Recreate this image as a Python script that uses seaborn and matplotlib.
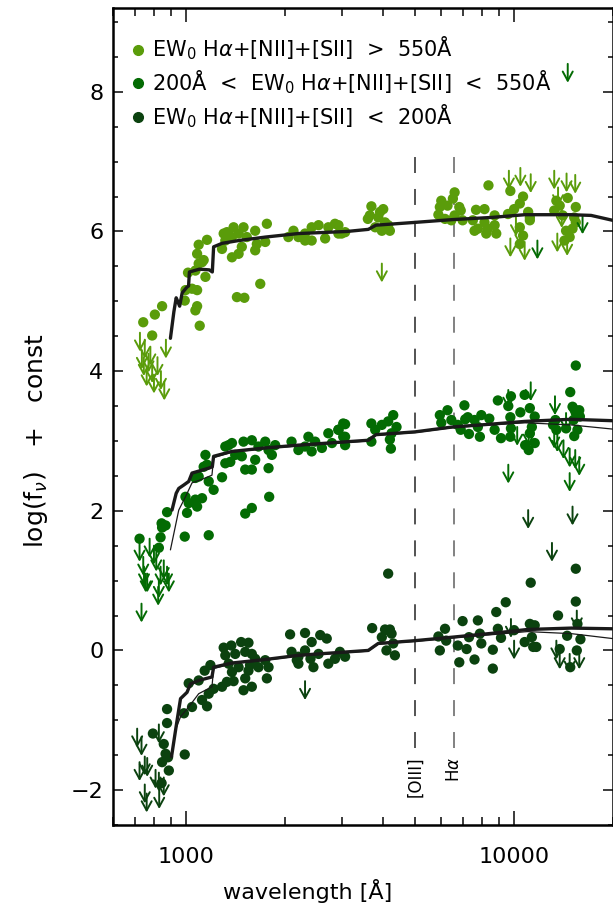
import numpy as np
import pandas as pd
import seaborn as sns
import matplotlib.pyplot as plt
from matplotlib.lines import Line2D
from matplotlib.ticker import FixedLocator, LogLocator, MultipleLocator, NullFormatter, FuncFormatter

# ---- colours of the three EW bins
c_high = '#5a9c0a'
c_mid = '#036b03'
c_low = '#0b420f'

legend_labels = [r'EW$_0$ H$\alpha$+[NII]+[SII]  >  550Å',
                 r'200Å  <  EW$_0$ H$\alpha$+[NII]+[SII]  <  550Å',
                 r'EW$_0$ H$\alpha$+[NII]+[SII]  <  200Å']

# ---- detections (wavelength [A], log f_nu + const)
high_pts = [(742, 4.70), (805, 4.81), (847, 4.93), (790, 4.51), (1095, 5.81), (1161, 5.88), (1083, 5.68),
            (1121, 5.56), (1095, 5.54), (1134, 5.59), (1016, 5.41), (1070, 5.44), (1148, 5.35), (1045, 5.18),
            (1083, 5.16), (998, 5.16), (993, 5.01), (1083, 4.93), (1070, 4.87), (1103, 4.65), (1687, 5.25),
            (1432, 5.06), (1509, 5.05), (1305, 5.97), (1335, 5.99), (1399, 6.06), (1500, 6.06), (1628, 6.01),
            (1767, 6.11), (1320, 5.87), (1383, 5.92), (1449, 5.97), (1535, 5.92), (1647, 5.82), (1747, 5.85),
            (1290, 5.75), (1383, 5.63), (1449, 5.68), (1482, 5.78), (1628, 5.73), (2130, 6.01), (2205, 5.92),
            (2310, 5.97), (2420, 6.06), (2540, 6.09), (2720, 6.06), (2850, 6.11), (2420, 5.87), (2660, 5.90),
            (2920, 5.97), (3060, 5.99), (2055, 5.92), (2310, 5.87),
            (2986, 5.97), (2920, 6.09), (3680, 6.36), (3640, 6.23), (3590, 6.18), (3864, 6.20), (3999, 6.32),
            (3910, 6.28), (4050, 6.13), (4190, 6.01), (3960, 6.01), (3780, 6.06), (4140, 6.09),
            (6600, 6.56), (6520, 6.47), (6010, 6.44), (5950, 6.35), (6280, 6.37), (6890, 6.30), (6600, 6.23),
            (6450, 6.16), (6170, 6.18), (5890, 6.24), (6980, 6.16), (6820, 6.35), (7670, 6.31), (8140, 6.32),
            (8370, 6.66), (8740, 6.23), (7500, 6.16), (7770, 6.04), (7590, 6.01), (8140, 6.13), (8240, 5.97),
            (8740, 6.09), (8840, 5.97), (8330, 6.04),
            (9760, 6.58), (10670, 6.50), (10430, 6.40), (10020, 6.32), (9600, 6.25), (11060, 6.28), (11190, 6.16),
            (10430, 6.06), (10670, 5.94), (10430, 5.82), (11190, 6.20), (13480, 6.44), (14600, 6.48),
            (13800, 6.37), (15450, 6.35), (13280, 6.30), (14100, 6.23), (15280, 6.20), (14430, 6.01),
            (14800, 5.92), (14270, 5.87), (15100, 6.04), (15450, 6.13)]

mid_pts = [(723, 1.60), (838, 1.62), (844, 1.82), (847, 1.76), (868, 1.79), (877, 1.98), (828, 1.47), (998, 2.20),
           (1009, 1.97), (993, 1.63), (1070, 2.16), (1083, 2.06), (1121, 2.18), (1021, 2.11), (1148, 2.80),
           (1161, 2.66), (1134, 2.63), (1070, 2.47), (1095, 2.49), (1175, 2.42), (1216, 2.30), (1175, 1.65),
           (1290, 2.48), (1320, 2.92), (1351, 2.94), (1383, 2.97), (1320, 2.68), (1367, 2.70), (1415, 2.80),
           (1500, 2.99), (1590, 3.01), (1482, 2.78), (1518, 2.59), (1590, 2.59), (1628, 2.73), (1666, 2.92),
           (1747, 2.99), (1788, 2.87), (1788, 2.61), (1830, 2.80), (1873, 2.94), (1796, 2.20), (1590, 2.04),
           (1518, 1.96), (2101, 2.99), (2205, 2.87), (2365, 3.06), (2480, 2.99), (2600, 2.90), (2720, 3.11),
           (2790, 2.97), (2920, 3.16), (3020, 3.25), (3060, 3.06), (2310, 2.92), (2420, 2.85),
           (3060, 3.24), (3020, 3.06), (3060, 2.94), (3680, 3.25), (3780, 3.16), (3680, 2.99), (3960, 3.23),
           (4140, 3.28), (4290, 3.37), (4390, 3.20), (4240, 3.11), (4190, 3.02), (4220, 2.89), (5950, 3.37),
           (6280, 3.44), (6010, 3.26), (6450, 3.30), (6750, 3.23), (7070, 3.51), (7110, 3.31), (6890, 3.16),
           (7300, 3.10), (7240, 3.34), (7590, 3.30), (7960, 3.37), (7770, 3.20), (7880, 3.06), (8420, 3.32),
           (8940, 3.58), (8740, 3.16), (9140, 3.04), (9800, 3.64), (9620, 3.50), (9760, 3.34), (10470, 3.41),
           (9800, 3.18), (9760, 3.06), (10790, 3.66), (11190, 3.47), (11580, 3.35), (11350, 3.20),
           (11580, 2.97), (10830, 2.94), (11100, 2.87), (11190, 3.11), (13390, 3.30), (13480, 3.16),
           (13170, 3.23), (14860, 3.70), (15450, 4.08), (15100, 3.49), (15450, 3.40), (15830, 3.44),
           (15630, 3.16), (15280, 3.07), (14430, 3.18), (2920, 3.16), (15300, 3.45), (15600, 3.38),
           (15900, 3.35), (15200, 3.30)]

low_pts = [(877, -0.84), (877, -1.04), (794, -1.19), (857, -1.34), (868, -1.48), (847, -1.60), (883, -1.53),
           (888, -1.72), (844, -1.90), (993, -1.49), (987, -0.90), (1021, -0.47), (1045, -0.81), (1095, -0.43),
           (1142, -0.29), (1189, -0.21), (1175, -0.62), (1161, -0.80), (1216, -0.55), (1121, -0.71),
           (1290, -0.52), (1335, -0.45), (1399, -0.44), (1500, -0.57), (1590, -0.52), (1518, -0.40),
           (1305, 0.04), (1377, 0.07), (1475, 0.12), (1553, 0.11), (1320, -0.07), (1415, -0.05), (1518, -0.02),
           (1590, -0.05), (1628, -0.12), (1351, -0.19), (1383, -0.31), (1449, -0.24), (1570, -0.21),
           (1666, -0.24), (1747, -0.14), (1767, -0.40), (1788, -0.24), (1553, -0.29), (2080, 0.23),
           (2310, 0.25), (2420, 0.12), (2570, 0.22), (2690, 0.17), (2101, -0.02), (2205, -0.09), (2310, 0.00),
           (2400, -0.12), (2540, -0.05), (2720, -0.19), (2850, -0.12), (2950, -0.02), (3060, -0.09),
           (2205, -0.19), (2450, -0.24), (2180, -0.14),
           (3960, 0.19), (4140, 0.29), (4240, 0.24), (4290, 0.10), (4090, 0.00), (4340, -0.07), (3700, 0.32),
           (4050, 0.30), (4190, 0.30), (5890, 0.20), (6170, 0.31), (5950, 0.00), (6220, 0.14), (6750, 0.07),
           (6980, 0.42), (6820, -0.17), (7180, 0.02), (7300, 0.19), (7590, -0.13), (7770, 0.43), (7880, 0.24),
           (7960, 0.10), (8840, 0.55), (8630, 0.01), (8630, -0.26), (8940, 0.31), (9140, 0.18), (9450, 0.69),
           (10020, 0.29), (10790, 0.12), (11190, 0.38), (11580, 0.36), (11350, 0.19), (11460, 0.05),
           (11710, 0.05), (13640, 0.50), (13800, 0.02), (14540, 0.21), (15450, 0.70), (15630, 0.38),
           (15960, 0.16), (15560, 0.00), (14860, -0.24), (4140, 1.10), (11260, 0.97), (15450, 1.17)]

# ---- upper limits (start of the arrow)
high_lims = [(725, 4.55), (735, 4.30), (745, 4.20), (750, 4.45), (760, 4.05), (770, 4.25), (780, 4.35),
             (790, 4.10), (800, 3.95), (820, 4.20), (840, 4.00), (860, 3.85), (870, 4.45), (3960, 5.54),
             (9660, 6.87), (10470, 6.91), (11260, 6.82), (13280, 6.87), (14480, 6.83), (15390, 6.81),
             (9760, 5.90), (10790, 5.85), (10470, 6.06), (10150, 6.20), (13640, 6.63), (13570, 5.97),
             (14540, 5.92), (14000, 6.32)]

mid_lims = [(723, 1.54), (742, 1.34), (746, 1.20), (755, 1.10), (776, 1.60), (733, 0.67), (763, 1.10),
            (800, 1.50), (813, 1.40), (828, 1.02), (838, 1.20), (857, 1.29), (877, 1.20), (888, 1.10),
            (824, 0.91), (11800, 5.87), (16200, 6.23), (14600, 8.40),
            (9620, 3.73), (13350, 3.64), (11260, 3.84), (10240, 3.20), (11100, 3.20), (9620, 2.66),
            (13280, 3.16), (13570, 3.11), (14170, 3.01), (14800, 2.89), (15390, 2.87), (15830, 2.77),
            (14800, 2.54), (14430, 3.40)]

low_lims = [(711, -1.12), (733, -1.24), (828, -1.06), (750, -1.52), (763, -1.54), (723, -1.60), (750, -1.92),
            (809, -1.71), (828, -1.75), (857, -1.82), (760, -2.05), (830, -2.00), (2310, -0.44), (9800, 0.45),
            (10020, 0.14), (13480, 0.14), (13800, 0.00), (14800, -0.05), (15560, 0.57), (15830, 0.00),
            (11060, 2.01), (15100, 2.06), (13070, 1.54)]

# ---- template SEDs
high_model_lam = [898, 920, 935, 945, 958, 975, 1007, 1020, 1026, 1100, 1180, 1205, 1216, 1290, 1450, 1750,
                  2200, 3100, 3600, 3700, 3800, 5000, 6500, 8500, 10800, 14900, 17200, 20000]
high_model = [4.47, 4.85, 5.05, 5.00, 4.93, 5.12, 5.20, 5.22, 5.42, 5.46, 5.45, 5.42, 5.78, 5.83, 5.87, 5.92,
              5.97, 6.00, 6.03, 6.06, 6.09, 6.13, 6.17, 6.20, 6.24, 6.24, 6.23, 6.16]

mid_model_lam = [908, 935, 952, 987, 1021, 1045, 1175, 1205, 1216, 1383, 1747, 2205, 3127, 3600, 3800, 5000,
                 6500, 8500, 10800, 14900, 20000]
mid_model = [2.01, 2.25, 2.32, 2.37, 2.42, 2.54, 2.61, 2.63, 2.78, 2.85, 2.90, 2.94, 2.99, 3.01, 3.09, 3.13,
             3.20, 3.24, 3.28, 3.31, 3.29]
mid_model_lam2 = [898, 952, 998, 1045, 1120, 1202, 1216, 1383, 1747, 2205, 3127, 3600, 3800, 5000, 6500, 8500,
                  10800, 14900, 20000]
mid_model2 = [1.44, 2.01, 2.20, 2.40, 2.45, 2.51, 2.76, 2.84, 2.89, 2.93, 2.98, 3.00, 3.08, 3.12, 3.19, 3.23,
              3.26, 3.23, 3.17]

low_model_lam = [905, 941, 964, 1009, 1033, 1095, 1202, 1216, 1383, 1747, 2205, 3127, 3600, 3860, 5000, 6500,
                 8800, 11000, 15000, 20000]
low_model = [-1.52, -1.00, -0.69, -0.60, -0.48, -0.43, -0.38, -0.24, -0.18, -0.13, -0.07, -0.02, 0.00, 0.10,
             0.14, 0.19, 0.25, 0.30, 0.32, 0.31]
low_model_lam2 = [905, 930, 964, 1021, 1095, 1202, 1216, 1383, 1747, 2205, 3127, 3600, 3860, 5000, 6500, 8800,
                  11000, 15000, 20000]
low_model2 = [-1.52, -1.14, -0.95, -0.81, -0.62, -0.52, -0.26, -0.19, -0.14, -0.08, -0.03, -0.01, 0.09, 0.13,
              0.18, 0.23, 0.27, 0.24, 0.17]

# ---- emission line markers
line_lam = [5007, 6563]
line_names = ['[OIII]', r'H$\alpha$']
line_colors = ['#444444', '#777777']

ARROW_LEN = 0.27

sns.set_theme(style='ticks')
plt.rcParams['font.family'] = ['DejaVu Sans']
plt.rcParams['mathtext.fontset'] = 'dejavusans'
plt.rcParams['lines.scale_dashes'] = False
for key in ['text.color', 'axes.labelcolor', 'xtick.color', 'ytick.color', 'axes.edgecolor']:
    plt.rcParams[key] = 'black'

fig = plt.figure(figsize=(6.13, 9.11), dpi=100)
ax = fig.add_axes([0.1843, 0.0944, 0.8150, 0.8968])
ax.set_xscale('log')

# template lines
sns.lineplot(x=high_model_lam, y=high_model, sort=False, estimator=None, color='k', lw=2.4, ax=ax, zorder=3)
sns.lineplot(x=mid_model_lam2, y=mid_model2, sort=False, estimator=None, color='k', lw=0.9, ax=ax, zorder=3)
sns.lineplot(x=mid_model_lam, y=mid_model, sort=False, estimator=None, color='k', lw=2.4, ax=ax, zorder=3)
sns.lineplot(x=low_model_lam2, y=low_model2, sort=False, estimator=None, color='k', lw=0.9, ax=ax, zorder=3)
sns.lineplot(x=low_model_lam, y=low_model, sort=False, estimator=None, color='k', lw=2.4, ax=ax, zorder=3)

# detections
for pts, col in [(high_pts, c_high), (mid_pts, c_mid), (low_pts, c_low)]:
    df = pd.DataFrame(pts, columns=['lam', 'flux'])
    sns.scatterplot(data=df, x='lam', y='flux', color=col, s=55, edgecolor='none', linewidth=0, ax=ax, zorder=2)

# upper limits
for lims, col in [(high_lims, c_high), (mid_lims, c_mid), (low_lims, c_low)]:
    for lam, val in lims:
        ax.annotate('', xy=(lam, val - ARROW_LEN), xytext=(lam, val),
                    arrowprops=dict(arrowstyle='->,head_length=0.55,head_width=0.3', color=col, lw=1.4,
                                    shrinkA=0, shrinkB=0, mutation_scale=12), zorder=2)

# [OIII] and Halpha
ax.vlines(line_lam, -1.4, 7.1, colors=line_colors, lw=1.3, linestyles=(0, (11.5, 11.5)), zorder=1)
for lam, name in zip(line_lam, line_names):
    ax.text(lam, -1.52, name, rotation=90, ha='center', va='top', fontsize=12)

ax.set_xlim(600, 20000)
ax.set_ylim(-2.5, 9.2)

ax.xaxis.set_major_locator(FixedLocator([1000, 10000]))
ax.xaxis.set_major_formatter(FuncFormatter(lambda v, p: f'{int(v)}'))
ax.xaxis.set_minor_locator(LogLocator(base=10, subs=np.arange(2, 10)))
ax.xaxis.set_minor_formatter(NullFormatter())
ax.yaxis.set_major_locator(MultipleLocator(2))
ax.yaxis.set_minor_locator(MultipleLocator(0.5))
ax.yaxis.set_major_formatter(FuncFormatter(lambda v, p: f'{v:.0f}'.replace('-', '\u2212')))

ax.tick_params(axis='both', which='both', direction='in', top=True, right=True, color='k', labelsize=16)
ax.tick_params(axis='x', which='major', length=10, width=1.2, pad=16)
ax.tick_params(axis='x', which='minor', length=5.5, width=1.2)
ax.tick_params(axis='y', which='major', length=7, width=1.2, pad=7)
ax.tick_params(axis='y', which='minor', length=3.6, width=1.2)
for sp in ax.spines.values():
    sp.set_linewidth(1.8)

ax.set_xlabel('wavelength [Å]', fontsize=16)
ax.xaxis.set_label_coords(0.39, -0.066)
ax.set_ylabel(r'log(f$_\nu$)   +   const', fontsize=18)
ax.yaxis.set_label_coords(-0.127, 0.47)

handles = [Line2D([], [], marker='o', ls='none', color=c, markersize=7) for c in (c_high, c_mid, c_low)]
ax.legend(handles, legend_labels, loc='upper left', bbox_to_anchor=(0.008, 0.985), frameon=False,
          fontsize=15, handlelength=0.6, handletextpad=0.4, labelspacing=0.3, borderpad=0.2)

fig.savefig('out.png', dpi=100)
